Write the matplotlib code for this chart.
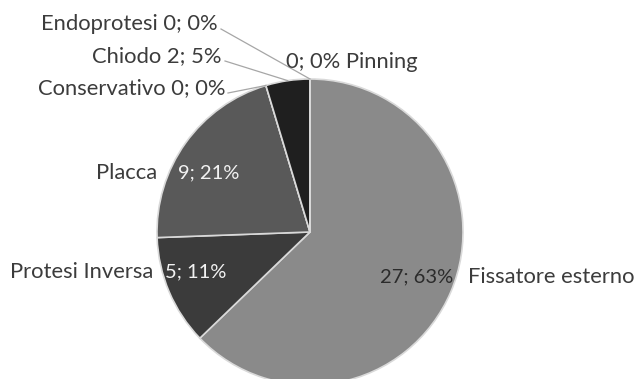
import numpy as np
import matplotlib
matplotlib.use("Agg")
import matplotlib.pyplot as plt

# data (clockwise from 12 o'clock)
labels = ["Fissatore esterno", "Protesi Inversa", "Placca", "Conservativo",
          "Chiodo", "Endoprotesi", "Pinning"]
values = [27, 5, 9, 0, 2, 0, 0]
percents = [63, 11, 21, 0, 5, 0, 0]
colors = ["#8a8a8a", "#3b3b3b", "#595959", "#737373", "#1f1f1f", "#9a9a9a", "#b0b0b0"]

W, H = 637, 379
CX, CY, R = 310, H - 232, 153

plt.rcParams["font.family"] = ["Lato", "DejaVu Sans"]
TXT = "#3c3c3c"
FS = 15.8
FS_IN = 14.5

fig = plt.figure(figsize=(W / 100, H / 100), dpi=100)
ax = fig.add_axes([0, 0, 1, 1])

wedges, _ = ax.pie(values, colors=colors, startangle=90, counterclock=False,
                   center=(CX, CY), radius=R, frame=True,
                   wedgeprops=dict(edgecolor="#d9d9d9", linewidth=1.2))
ax.set_xlim(0, W)
ax.set_ylim(0, H)
ax.set_aspect("equal")
ax.axis("off")


def edge_point(w):
    ang = np.deg2rad((w.theta1 + w.theta2) / 2)
    return CX + R * np.cos(ang), CY + R * np.sin(ang)


def value_text(i):
    return f"{values[i]}; {percents[i]}%"


def y(py):
    return H - py


# labels inside / beside the big wedges
ax.text(468, y(277), labels[0], ha="left", va="center", fontsize=FS, color=TXT)
ax.text(380, y(277), value_text(0), ha="left", va="center", fontsize=FS_IN, color="#2b2b2b")

ax.text(153, y(272), labels[1], ha="right", va="center", fontsize=FS, color=TXT)
ax.text(165, y(272), value_text(1), ha="left", va="center", fontsize=FS_IN, color="#f2f2f2")

ax.text(157, y(173), labels[2], ha="right", va="center", fontsize=FS, color=TXT)
ax.text(178, y(173), value_text(2), ha="left", va="center", fontsize=FS_IN, color="#f2f2f2")

# small wedges with leader lines
outer = [(3, 225, 88), (4, 222, 56), (5, 218, 24)]
for i, tx, ty in outer:
    ax.text(tx, y(ty), f"{labels[i]} {value_text(i)}", ha="right", va="center",
            fontsize=FS, color=TXT)
    ex, ey = edge_point(wedges[i])
    ax.plot([tx + 3, ex], [y(ty + 5), ey], color="#a6a6a6", lw=0.9)

ax.text(286, y(62), f"{value_text(6)} {labels[6]}", ha="left", va="center",
        fontsize=FS, color=TXT)

fig.savefig("out.png", dpi=100)
